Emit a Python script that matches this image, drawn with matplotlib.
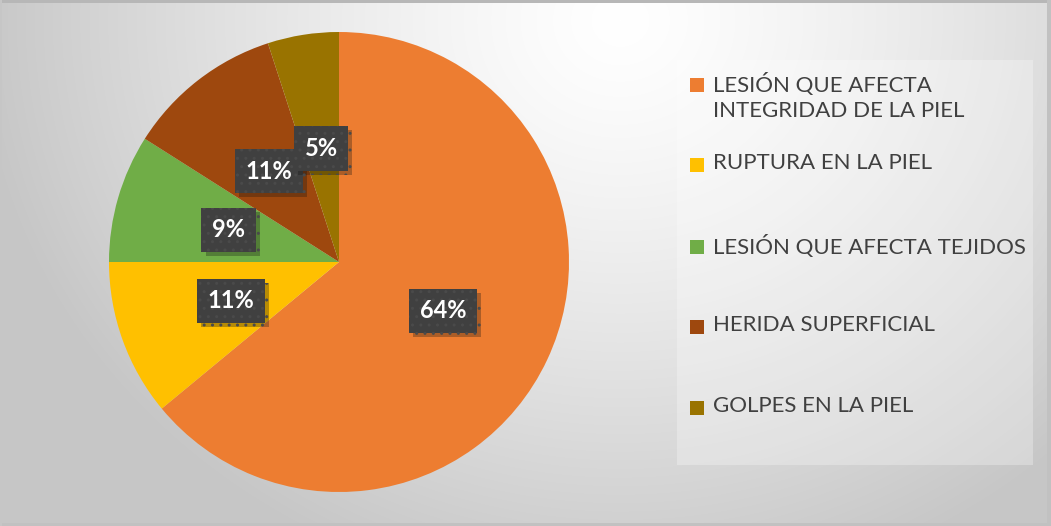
import matplotlib
matplotlib.use('Agg')
import matplotlib.pyplot as plt
import matplotlib.patches as mpatches
import matplotlib.patheffects as pe
import numpy as np

# Datos del gráfico
categorias = ['LESIÓN QUE AFECTA\nINTEGRIDAD DE LA PIEL', 'RUPTURA EN LA PIEL',
              'LESIÓN QUE AFECTA TEJIDOS', 'HERIDA SUPERFICIAL', 'GOLPES EN LA PIEL']
porcentajes = [64, 11, 9, 11, 5]
colores = ['#ED7D31', '#FFC000', '#70AD47', '#9E480E', '#997300']

W, H = 1051, 526
fig = plt.figure(figsize=(W / 100, H / 100), dpi=100)

# --- fondo con degradado radial ---
bg = fig.add_axes([0, 0, 1, 1])
yy, xx = np.mgrid[0:H, 0:W]
d = np.sqrt((xx - 620) ** 2 + ((yy - 20) * 1.1) ** 2)
v = 1 - 0.22 * np.clip(d / 640, 0, 1) ** 1.3
img = np.dstack([v, v, v])
img[0:3, :, :] = 0.72      # borde superior
img[:, -4:, :] = 0.76      # borde derecho
img[-3:, :, :] = 0.76      # borde inferior
img[:, 0:2, :] = 0.78
bg.imshow(img, extent=[0, W, H, 0], aspect='auto', interpolation='bilinear')
bg.set_xlim(0, W)
bg.set_ylim(H, 0)
bg.axis('off')

# caja de la leyenda
bg.add_patch(mpatches.Rectangle((677, 60), 356, 405, facecolor='white',
                                alpha=0.28, edgecolor='none'))

# --- pastel ---
cx, cy, r = 339, 262, 230
ax = fig.add_axes([(cx - r) / W, (H - cy - r) / H, 2 * r / W, 2 * r / H])
wedges, textos, autotextos = ax.pie(
    porcentajes, colors=colores, startangle=90, counterclock=False,
    autopct='%1.0f%%', pctdistance=0.5,
    wedgeprops=dict(linewidth=0),
    textprops=dict(color='white', fontsize=17, fontweight='bold', family='Lato'))
ax.set_xlim(-1, 1)
ax.set_ylim(-1, 1)
ax.set_aspect('auto')

for t in autotextos:
    t.set_bbox(dict(boxstyle='square,pad=0.45', facecolor='#404040',
                    edgecolor='#4a4a4a', linewidth=0, hatch='..'))
    t.get_bbox_patch().set_path_effects(
        [pe.SimplePatchShadow(offset=(3, -3), alpha=0.3), pe.Normal()])

# --- leyenda manual ---
ys = [85, 165, 247, 327, 408]
for lab, col, y in zip(categorias, colores, ys):
    bg.add_patch(mpatches.Rectangle((690, y - 7), 14, 14, facecolor=col, edgecolor='none'))
    bg.text(713, y - 12, lab, fontsize=16, color='#404040', family='Lato',
            va='top', ha='left', linespacing=1.3)

fig.savefig('out.png', dpi=100)
